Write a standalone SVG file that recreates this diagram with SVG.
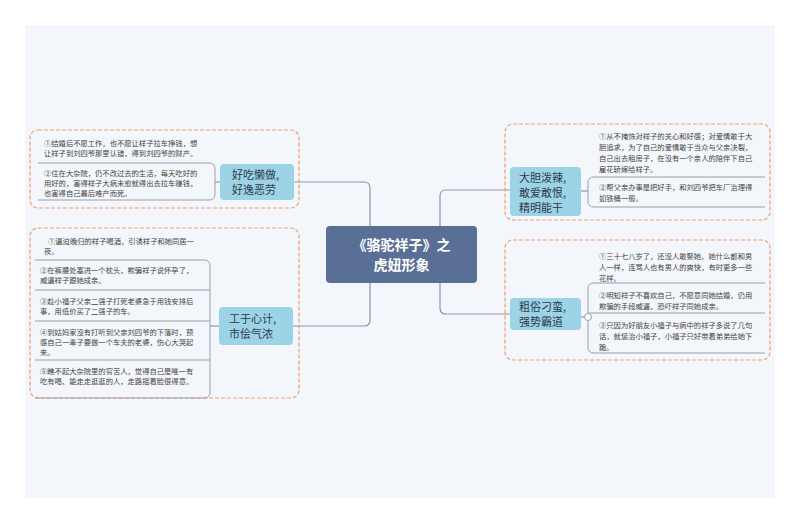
<svg xmlns="http://www.w3.org/2000/svg" width="800" height="523" viewBox="0 0 800 523">
<style>
.bg{fill:#f3f6fa}
.grp{fill:none;stroke:#f0a070;stroke-width:1.2;stroke-dasharray:4,2}
.sub{fill:#9dd3e6}
.st{font-family:"Noto Sans CJK SC","Liberation Sans",sans-serif;font-size:11px;fill:#2d3a4a}
.lt{font-family:"Noto Sans CJK SC","Liberation Sans",sans-serif;font-size:7.3px;fill:#444}
.br{fill:none;stroke:#9a9fa6;stroke-width:1}
.con{fill:none;stroke:#8a96a6;stroke-width:1.2}
</style>
<rect width="800" height="523" fill="#ffffff"/>
<rect x="25" y="25" width="750" height="473" class="bg"/>
<g id="connectors">
<path class="con" d="M370 226 V188 Q370 182 364 182 H294"/>
<path class="con" d="M440 226 V196 Q440 190 446 190 H510"/>
<path class="con" d="M370 283 V320 Q370 326 364 326 H293"/>
<path class="con" d="M440 283 V308 Q440 314 446 314 H510"/>
<path class="con" d="M215 182 H220"/>
<path class="con" d="M210 326 H219"/>
<path class="con" d="M581 191 H588"/>
<path class="con" d="M581 317 H586"/>
</g>
<g id="center">
<rect x="326" y="226" width="151" height="57" rx="4" fill="#5a6f96"/>
<text x="401.5" y="250" text-anchor="middle" font-family="Noto Sans CJK SC,Liberation Sans,sans-serif" font-size="14" font-weight="bold" fill="#fff">《骆驼祥子》之</text>
<text x="401.5" y="270" text-anchor="middle" font-family="Noto Sans CJK SC,Liberation Sans,sans-serif" font-size="14" font-weight="bold" fill="#fff">虎妞形象</text>
</g>
<g id="lazy">
<rect x="30" y="130" width="269" height="78" rx="8" class="grp"/>
<rect x="220" y="164" width="74" height="36" rx="4" class="sub"/>
<text x="232" y="179" class="st">好吃懒做,</text>
<text x="232" y="194" class="st">好逸恶劳</text>
<text x="44" y="146" class="lt">①结婚后不愿工作，也不愿让祥子拉车挣钱，想</text>
<text x="44" y="156" class="lt">让祥子到刘四爷那里认错，得到刘四爷的财产。</text>
<path class="br" d="M38 163 H209 Q215 163 215 169 V194 Q215 200 209 200 H38"/>
<text x="44" y="176" class="lt">②住在大杂院，仍不改过去的生活，每天吃好的</text>
<text x="44" y="186" class="lt">用好的，害得祥子大病未愈就得出去拉车赚钱，</text>
<text x="44" y="196" class="lt">也害得自己最后难产而死。</text>
</g>
<g id="scheming">
<rect x="30" y="228" width="269" height="170" rx="8" class="grp"/>
<rect x="219" y="307" width="74" height="38" rx="4" class="sub"/>
<text x="229" y="323" class="st">工于心计,</text>
<text x="229" y="338" class="st">市侩气浓</text>
<text x="48" y="244" class="lt">①逼迫晚归的祥子喝酒，引诱祥子和她同居一</text>
<text x="44" y="254" class="lt">夜。</text>
<path class="br" d="M35 260 H204 Q210 260 210 266 V392 Q210 398 204 398 H35"/>
<path class="br" d="M35 290 H210 M35 321 H210 M35 360 H210"/>
<text x="40" y="273" class="lt">②在裤腰处塞进一个枕头，欺骗祥子说怀孕了，</text>
<text x="40" y="283" class="lt">威逼祥子跟她成亲。</text>
<text x="40" y="304" class="lt">③趁小福子父亲二强子打死老婆急于用钱安排后</text>
<text x="40" y="314" class="lt">事，用低价买了二强子的车。</text>
<text x="40" y="335" class="lt">④到姑妈家没有打听到父亲刘四爷的下落时，预</text>
<text x="40" y="345" class="lt">感自己一辈子要做一个车夫的老婆，伤心大哭起</text>
<text x="40" y="355" class="lt">来。</text>
<text x="40" y="374" class="lt">⑤瞧不起大杂院里的穷苦人，觉得自己是唯一有</text>
<text x="40" y="384" class="lt">吃有喝、能走走逛逛的人，走路摇着脸很得意。</text>
</g>
<g id="bold">
<rect x="505" y="124" width="265" height="96" rx="8" class="grp"/>
<rect x="510" y="167" width="71" height="49" rx="4" class="sub"/>
<text x="519" y="182" class="st">大胆泼辣,</text>
<text x="519" y="197" class="st">敢爱敢恨,</text>
<text x="519" y="212" class="st">精明能干</text>
<text x="599" y="139" class="lt">①从不掩饰对祥子的关心和好感；对爱情敢于大</text>
<text x="599" y="150" class="lt">胆追求，为了自己的爱情敢于当众与父亲决裂，</text>
<text x="599" y="161" class="lt">自己出去租房子，在没有一个亲人的陪伴下自己</text>
<text x="599" y="172" class="lt">雇花轿嫁给祥子。</text>
<path class="br" d="M765 177 H594 Q588 177 588 183 V201 Q588 207 594 207 H765"/>
<text x="599" y="190" class="lt">②帮父亲办事是把好手，和刘四爷把车厂治理得</text>
<text x="599" y="201" class="lt">如铁桶一般。</text>
</g>
<g id="vulgar">
<rect x="505" y="240" width="265" height="120" rx="8" class="grp"/>
<rect x="510" y="298" width="71" height="32" rx="4" class="sub"/>
<text x="519" y="311" class="st">粗俗刁蛮,</text>
<text x="519" y="326" class="st">强势霸道</text>
<text x="599" y="259" class="lt">①三十七八岁了，还没人敢娶她。她什么都和男</text>
<text x="599" y="270" class="lt">人一样，连骂人也有男人的爽快，有时更多一些</text>
<text x="599" y="281" class="lt">花样。</text>
<path class="br" d="M765 283 H594 Q588 283 588 289 V347 Q588 353 594 353 H765 M588 313 H765"/>
<circle cx="588" cy="317" r="3.5" fill="#fff" stroke="#9a9fa6"/>
<text x="599" y="298" class="lt">②明知祥子不喜欢自己，不愿意同她结婚，仍用</text>
<text x="599" y="309" class="lt">欺骗的手段威逼，恐吓祥子同她成亲。</text>
<text x="599" y="328" class="lt">③只因为好朋友小福子与病中的祥子多说了几句</text>
<text x="599" y="339" class="lt">话，就惩治小福子，小福子只好带着弟弟给她下</text>
<text x="599" y="350" class="lt">跪。</text>
</g>
</svg>
